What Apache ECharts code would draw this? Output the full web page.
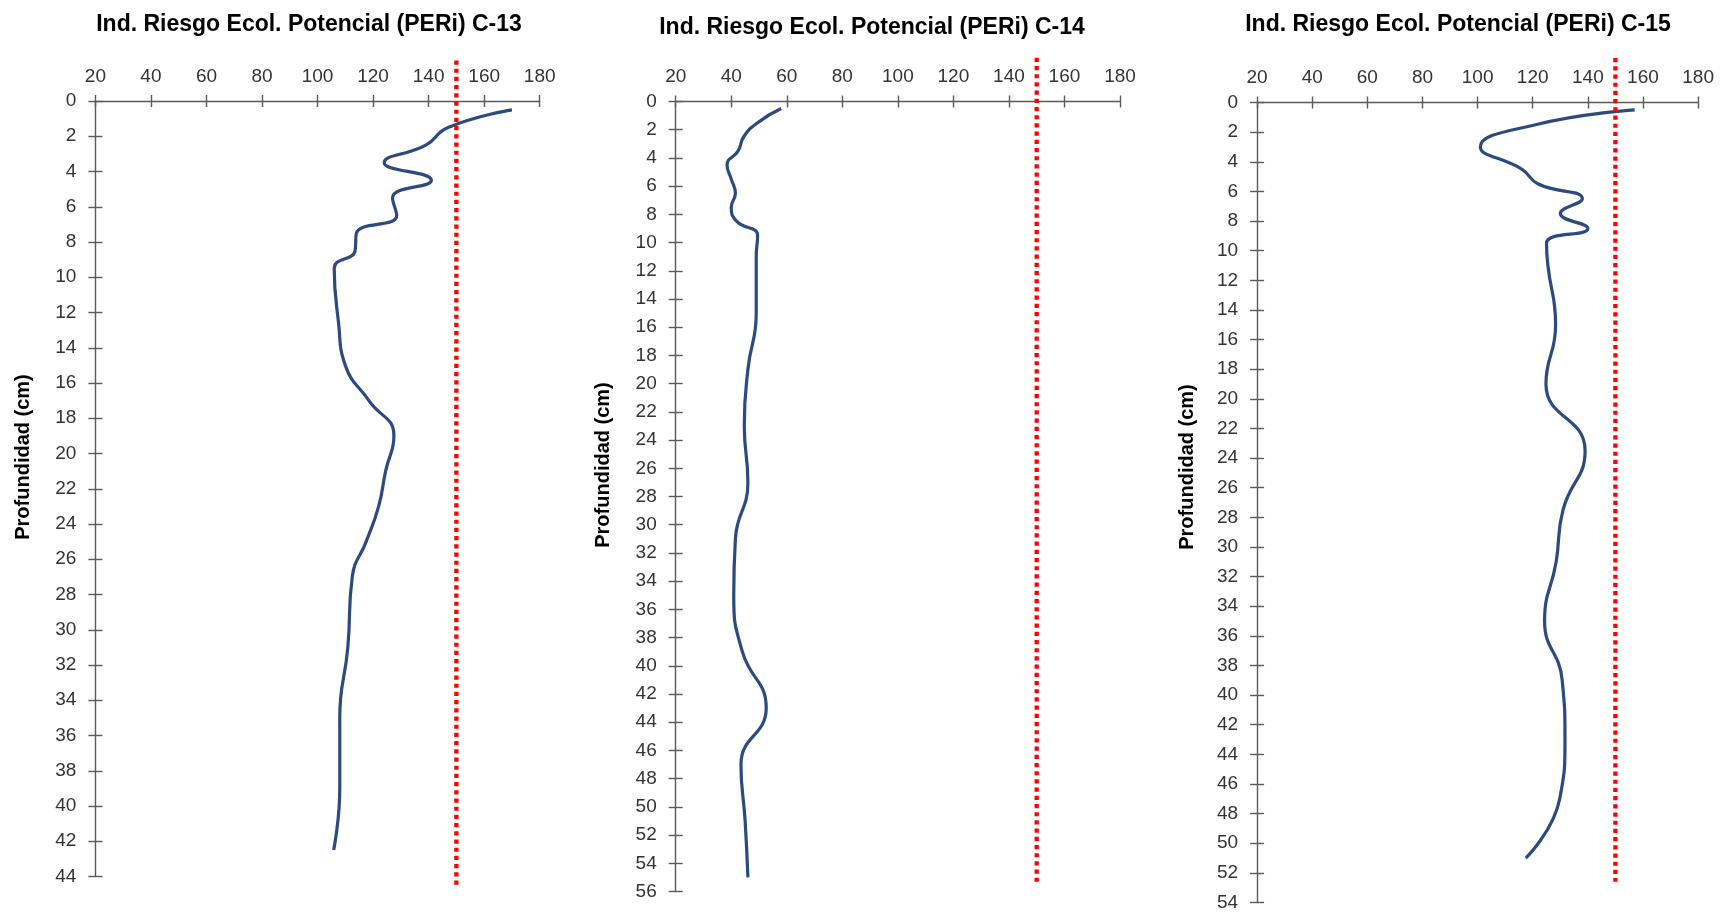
<!DOCTYPE html>
<html>
<head>
<meta charset="utf-8">
<script src="https://cdn.jsdelivr.net/npm/echarts@6/dist/echarts.min.js"></script>
<style>
html,body{margin:0;padding:0;background:#fff;}
#chart{width:1720px;height:912px;}
</style>
</head>
<body>
<div id="chart"></div>
<script>
// ---- Data ----
const titles = ['Ind. Riesgo Ecol. Potencial (PERi) C-13', 'Ind. Riesgo Ecol. Potencial (PERi) C-14', 'Ind. Riesgo Ecol. Potencial (PERi) C-15'];
const yAxisTitle = 'Profundidad (cm)';

const depth13 = [0.5, 1.5, 2.5, 3.5, 4.5, 5.5, 6.5, 7.5, 8.5, 9.5, 12.5, 15, 17, 19, 21, 23, 25, 27, 31, 35, 39, 42.5];
const peri13  = [170, 147, 139, 124, 141, 127, 128.5, 114, 113.5, 106, 107.5, 110, 118.5, 127.5, 124.5, 122, 117.5, 112.5, 110.9, 108, 108, 105.8];

const depth14 = [0.5, 1.5, 2.5, 3.5, 4.5, 5.5, 6.5, 7.5, 8.5, 9.5, 11, 15, 19, 23, 27, 31, 35, 39, 43, 47, 51, 55];
const peri14  = [58, 49.5, 44.5, 42.5, 38.5, 40, 41.5, 40, 42, 49.5, 49, 49, 46, 44.7, 46, 41.5, 40.9, 44, 52.6, 43.5, 45, 46];

const depth15 = [0.5, 1.5, 3, 4.5, 5.5, 6.5, 7.5, 8.5, 9.5, 11, 15, 19, 23.5, 27.5, 31, 35, 39, 43, 47, 51];
const peri15  = [157, 121, 101, 116, 122, 138, 130, 140, 125, 125.5, 128.3, 124.8, 139, 131, 128.5, 124.3, 130.7, 131.7, 129.8, 117.5];

const threshold = 150;
const thresholdDepth13 = [-2.3, 44.5];
const thresholdDepth14 = [-3.1, 55.3];
const thresholdDepth15 = [-3.0, 52.6];

const xMin = 20, xMax = 180, xStep = 20, yStep = 2;
const yMax = [44, 56, 54];

// ---- Layout / style ----
const grids = [
  {left: 95.4, top: 101, width: 444.3, height: 775.5},
  {left: 675.7, top: 101.5, width: 444.3, height: 790},
  {left: 1257.1, top: 102.5, width: 441, height: 801}
];
const titlePos = [[309, 25], [872, 28], [1458, 25]];
const namePos = [[23, 457], [603, 465], [1187, 467]];
const axisColor = '#595959';
const labelColor = '#333333';
const lineColor = '#2C4A7E';
const FONT = '"Liberation Sans", Arial, sans-serif';

const depths = [depth13, depth14, depth15];
const peris = [peri13, peri14, peri15];
const thr = [thresholdDepth13, thresholdDepth14, thresholdDepth15];

const xAxes = [], yAxes = [], series = [], graphics = [];
for (let i = 0; i < 3; i++) {
  const baseX = {
    type: 'value', gridIndex: i, position: 'top', min: xMin, max: xMax, interval: xStep,
    splitLine: {show: false}
  };
  xAxes.push(Object.assign({}, baseX, {
    axisLine: {show: true, onZero: false, lineStyle: {color: axisColor, width: 1.4}},
    axisTick: {show: true, inside: false, length: 6, lineStyle: {color: axisColor, width: 1.4}},
    axisLabel: {show: true, color: labelColor, fontSize: 19, fontFamily: FONT, margin: 15}
  }));
  xAxes.push(Object.assign({}, baseX, {
    axisLine: {show: false, onZero: false},
    axisTick: {show: true, inside: true, length: 6, lineStyle: {color: axisColor, width: 1.4}},
    axisLabel: {show: false}
  }));
  const baseY = {
    type: 'value', gridIndex: i, position: 'left', inverse: true, min: 0, max: yMax[i], interval: yStep,
    splitLine: {show: false}
  };
  yAxes.push(Object.assign({}, baseY, {
    axisLine: {show: true, onZero: false, lineStyle: {color: axisColor, width: 1.4}},
    axisTick: {show: true, inside: false, length: 7, lineStyle: {color: axisColor, width: 1.4}},
    axisLabel: {show: true, color: labelColor, fontSize: 19, fontFamily: FONT, margin: 19}
  }));
  yAxes.push(Object.assign({}, baseY, {
    axisLine: {show: false, onZero: false},
    axisTick: {show: true, inside: true, length: 7, lineStyle: {color: axisColor, width: 1.4}},
    axisLabel: {show: false}
  }));

  series.push({
    type: 'line', xAxisIndex: 2 * i, yAxisIndex: 2 * i,
    data: peris[i].map((v, k) => [v, depths[i][k]]),
    smooth: 0.5, showSymbol: false, symbol: 'none',
    lineStyle: {color: lineColor, width: 3.2}, z: 3
  });
  series.push({
    type: 'line', xAxisIndex: 2 * i, yAxisIndex: 2 * i,
    data: thr[i].map(d => [threshold, d]),
    clip: false, showSymbol: false, symbol: 'none',
    lineStyle: {color: '#FF0000', width: 4.3, type: [4.2, 4], cap: 'butt'}, z: 4
  });

  graphics.push({
    type: 'text', x: titlePos[i][0], y: titlePos[i][1],
    style: {text: titles[i], fill: '#000', font: 'bold 23px ' + FONT, textAlign: 'center', textVerticalAlign: 'middle'}
  });
  graphics.push({
    type: 'text', x: namePos[i][0], y: namePos[i][1], rotation: Math.PI / 2,
    style: {text: yAxisTitle, fill: '#000', font: 'bold 20px ' + FONT, textAlign: 'center', textVerticalAlign: 'middle'}
  });
}

const chart = echarts.init(document.getElementById('chart'), null, {renderer: 'canvas'});
chart.setOption({
  animation: false,
  backgroundColor: '#ffffff',
  grid: grids.map(g => Object.assign({containLabel: false}, g)),
  xAxis: xAxes,
  yAxis: yAxes,
  series: series,
  graphic: graphics
});
</script>
</body>
</html>
